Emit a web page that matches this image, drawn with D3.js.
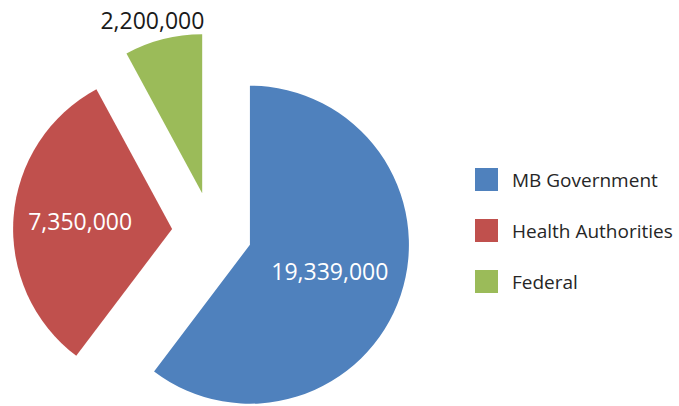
<!DOCTYPE html>
<html>
<head>
<meta charset="utf-8">
<script src="https://cdn.jsdelivr.net/npm/d3@7"></script>
<style>
  body { margin: 0; background: #fff; }
  svg { display: block; font-family: "Open Sans", "Noto Sans", sans-serif; }
</style>
</head>
<body>
<div id="chart"></div>
<script>
const categories = ['MB Government', 'Health Authorities', 'Federal'];
const amounts = [19339000, 7350000, 2200000];
// the slices in the picture do not follow the amounts, so the share of the circle is read off separately
const sliceShare = [60.3, 31.8, 7.9];
const colors = ['#4F81BD', '#C0504D', '#9BBB59'];

const width = 679;
const height = 406;
const cx = 212, cy = 232;
const radius = 159;
const explode = 40;

const svg = d3.select('#chart').append('svg')
  .attr('width', width)
  .attr('height', height);

const slices = categories.map((name, i) => ({ name, amount: amounts[i], share: sliceShare[i], color: colors[i] }));

const pie = d3.pie().sort(null).value(d => d.share);
const arc = d3.arc().innerRadius(0).outerRadius(radius);
const fmt = d3.format(',');

const arcs = pie(slices);

// unit vector along the middle of a slice
function mid(d) {
  const a = (d.startAngle + d.endAngle) / 2;
  return [Math.sin(a), -Math.cos(a)];
}

const g = svg.append('g').attr('transform', `translate(${cx},${cy})`);

const sliceG = g.selectAll('g.slice')
  .data(arcs)
  .enter().append('g')
    .attr('class', 'slice')
    .attr('transform', d => {
      const [ux, uy] = mid(d);
      return `translate(${ux * explode},${uy * explode})`;
    });

sliceG.append('path')
  .attr('d', arc)
  .attr('fill', d => d.data.color);

// label distance from slice tip, as a part of the radius
const labelAt = [0.53, 0.58, 1.12];

sliceG.append('text')
  .attr('x', (d, i) => mid(d)[0] * radius * labelAt[i])
  .attr('y', (d, i) => mid(d)[1] * radius * labelAt[i])
  .attr('dx', (d, i) => labelAt[i] > 1 ? -6 : 0)
  .attr('dy', '0.36em')
  .attr('text-anchor', 'middle')
  .attr('font-size', 23)
  .attr('fill', (d, i) => labelAt[i] > 1 ? '#1a1a1a' : '#fff')
  .text(d => fmt(d.data.amount));

// legend
const legend = svg.append('g').attr('transform', 'translate(475,168)');
const item = legend.selectAll('g')
  .data(slices)
  .enter().append('g')
    .attr('transform', (d, i) => `translate(0,${i * 51})`);

item.append('rect')
  .attr('width', 23)
  .attr('height', 23)
  .attr('fill', d => d.color);

item.append('text')
  .attr('x', 37)
  .attr('y', 19)
  .attr('font-size', 19)
  .attr('fill', '#262626')
  .text(d => d.name);
</script>
</body>
</html>
